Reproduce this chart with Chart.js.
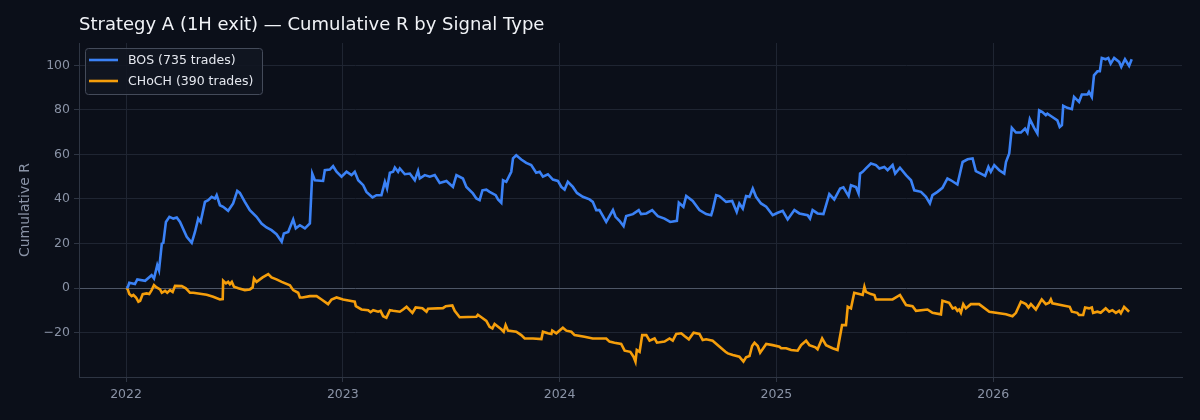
<!DOCTYPE html>
<html>
<head>
<meta charset="utf-8">
<script src="https://cdn.jsdelivr.net/npm/chart.js@4.4.1/dist/chart.umd.min.js"></script>
<style>
  html, body { margin: 0; padding: 0; background: #0b0f19; }
  #wrap { width: 1200px; height: 420px; }
</style>
</head>
<body>
<div id="wrap"><canvas id="myChart" width="1200" height="420"></canvas></div>
<script>
// chart text
const chartTitle = 'Strategy A (1H exit) \u2014 Cumulative R by Signal Type';
const seriesLabels = ['BOS (735 trades)', 'CHoCH (390 trades)'];
const yTitle = 'Cumulative R';

// tick labels
const yearTicks = [2022, 2023, 2024, 2025, 2026];
const rTicks = [-20, 0, 20, 40, 60, 80, 100];

// BOS cumulative R (x = decimal year)
const bosYears = [
  2022.002, 2022.009, 2022.015, 2022.041, 2022.052, 2022.088, 2022.118, 2022.129, 2022.144, 2022.152,
  2022.165, 2022.172, 2022.184, 2022.200, 2022.218, 2022.234, 2022.249, 2022.280, 2022.303, 2022.318,
  2022.333, 2022.344, 2022.364, 2022.379, 2022.395, 2022.410, 2022.418, 2022.433, 2022.448, 2022.471,
  2022.494, 2022.513, 2022.525, 2022.548, 2022.571, 2022.602, 2022.625, 2022.648, 2022.671, 2022.694,
  2022.718, 2022.728, 2022.748, 2022.771, 2022.783, 2022.802, 2022.825, 2022.848, 2022.859, 2022.871,
  2022.909, 2022.917, 2022.940, 2022.955, 2022.971, 2022.994,
  2023.017, 2023.040, 2023.055, 2023.071, 2023.094, 2023.109, 2023.137, 2023.155, 2023.178, 2023.194,
  2023.204, 2023.217, 2023.232, 2023.240, 2023.255, 2023.263, 2023.286, 2023.309, 2023.332, 2023.347,
  2023.355, 2023.378, 2023.401, 2023.424, 2023.447, 2023.478, 2023.508, 2023.524, 2023.554, 2023.570,
  2023.600, 2023.616, 2023.631, 2023.644, 2023.662, 2023.677, 2023.705, 2023.716, 2023.731, 2023.739,
  2023.754, 2023.777, 2023.785, 2023.800, 2023.823, 2023.846, 2023.869, 2023.892, 2023.908, 2023.923,
  2023.946, 2023.969, 2023.992,
  2024.008, 2024.023, 2024.038, 2024.061, 2024.080, 2024.107, 2024.138, 2024.153, 2024.169, 2024.184,
  2024.200, 2024.215, 2024.230, 2024.246, 2024.258, 2024.276, 2024.295, 2024.307, 2024.338, 2024.365,
  2024.376, 2024.400, 2024.427, 2024.453, 2024.484, 2024.510, 2024.541, 2024.550, 2024.571, 2024.584,
  2024.614, 2024.645, 2024.676, 2024.699, 2024.706, 2024.722, 2024.737, 2024.768, 2024.796, 2024.817,
  2024.829, 2024.845, 2024.860, 2024.876, 2024.891, 2024.906, 2024.929, 2024.953, 2024.983,
  2025.006, 2025.029, 2025.052, 2025.083, 2025.106, 2025.144, 2025.155, 2025.167, 2025.190, 2025.217,
  2025.244, 2025.267, 2025.294, 2025.309, 2025.333, 2025.344, 2025.367, 2025.379, 2025.386, 2025.398,
  2025.413, 2025.436, 2025.459, 2025.475, 2025.498, 2025.513, 2025.536, 2025.548, 2025.570, 2025.598,
  2025.621, 2025.636, 2025.667, 2025.690, 2025.708, 2025.720, 2025.743, 2025.766, 2025.789, 2025.805,
  2025.835, 2025.859, 2025.882, 2025.905, 2025.920, 2025.943, 2025.963, 2025.978, 2025.989,
  2026.005, 2026.028, 2026.051, 2026.059, 2026.074, 2026.086, 2026.105, 2026.128, 2026.147, 2026.158,
  2026.169, 2026.189, 2026.204, 2026.212, 2026.227, 2026.243, 2026.250, 2026.273, 2026.296, 2026.307,
  2026.317, 2026.323, 2026.342, 2026.363, 2026.373, 2026.396, 2026.409, 2026.435, 2026.442, 2026.455,
  2026.465, 2026.481, 2026.492, 2026.501, 2026.519, 2026.531, 2026.542, 2026.558, 2026.581, 2026.591,
  2026.608, 2026.627, 2026.639
];
const bosR = [
  0, 0.6, 2.4, 1.8, 3.9, 3.3, 5.8, 4.3, 10.3, 8,
  20, 20.3, 29.7, 32, 31.2, 31.7, 29.7, 23, 20.3, 25.2,
  31.2, 29.7, 38.7, 39.5, 41, 40.2, 41.7, 37.2, 36.5, 34.7,
  38, 43.6, 42.7, 38.7, 35, 32, 29, 27.2, 26, 24.2,
  20.8, 24.5, 25.2, 30.8, 26.8, 28.2, 26.8, 29, 51.4, 48.4,
  48.1, 52.9, 53.2, 54.7, 52.2, 50,
  52.2, 50.7, 52.2, 48.4, 46.2, 43.2, 40.7, 41.7, 41.7, 47.7,
  44.7, 51.8, 52.2, 54.1, 52.2, 53.7, 51.1, 51.4, 48.4, 52.6,
  49.2, 50.7, 50, 50.7, 47.2, 48.1, 45.4, 50.7, 49.2, 45.4,
  42.5, 40.2, 39.5, 43.9, 44.2, 43.2, 41.7, 39.8, 38.3, 48.4,
  47.7, 52.2, 58.2, 59.6, 57.7, 56.2, 55.2, 51.8, 52.2, 50,
  51.1, 48.7, 48.1,
  45.4, 44.2, 47.7, 45.4, 42.7, 41, 39.8, 38.7, 35, 35,
  32.3, 29.7, 32.3, 35, 32, 30.2, 27.8, 32.3, 33.2, 35,
  33.2, 33.5, 35, 32.3, 31.2, 29.7, 30.2, 38.3, 36.5, 41.3,
  39.1, 35, 33.2, 32.7, 35, 41.7, 41.3, 38.7, 39.1, 34.2,
  38, 35.7, 41.3, 41, 44.7, 41, 38, 36.5, 32.7,
  33.8, 34.7, 30.8, 35, 33.5, 32.7, 31.2, 35, 33.5, 33.2,
  42.2, 39.8, 44.7, 45.2, 41.3, 46.2, 45.4, 42.5, 51.4, 52.2,
  53.7, 55.9, 55.2, 53.7, 54.4, 52.9, 55.2, 51.4, 54, 50.7,
  48.4, 43.9, 43.2, 41, 38, 41.7, 43.2, 45, 49.2, 48.4,
  46.5, 56.6, 57.8, 58.2, 52.5, 51.4, 50.4, 54.4, 52.2,
  55.2, 52.9, 51.4, 56.6, 60.4, 71.9, 69.8, 69.8, 71.6, 69.8,
  75.8, 71.9, 69.4, 79.8, 79, 77.6, 78.3, 76.8, 75.3, 72.3,
  73.1, 81.8, 80.9, 80.3, 85.8, 83.6, 86.9, 86.9, 88.1, 85.8,
  95.5, 97.3, 97.3, 103.3, 102.7, 103.3, 100.7, 103.3, 101.5, 99.3,
  102.7, 99.7, 102.7
];

// CHoCH cumulative R (x = decimal year)
const chochYears = [
  2022.002, 2022.008, 2022.015, 2022.026, 2022.034, 2022.046, 2022.057, 2022.065, 2022.077, 2022.095,
  2022.107, 2022.118, 2022.129, 2022.141, 2022.157, 2022.165, 2022.180, 2022.190, 2022.203, 2022.215,
  2022.226, 2022.257, 2022.276, 2022.295, 2022.310, 2022.372, 2022.402, 2022.433, 2022.446, 2022.448,
  2022.461, 2022.471, 2022.479, 2022.488, 2022.498, 2022.518, 2022.548, 2022.571, 2022.584, 2022.590,
  2022.602, 2022.630, 2022.656, 2022.671, 2022.694, 2022.718, 2022.756, 2022.771, 2022.794, 2022.802,
  2022.814, 2022.848, 2022.879, 2022.902, 2022.932, 2022.948, 2022.971,
  2023.001, 2023.032, 2023.055, 2023.060, 2023.086, 2023.117, 2023.128, 2023.140, 2023.163, 2023.174,
  2023.186, 2023.201, 2023.217, 2023.232, 2023.263, 2023.278, 2023.294, 2023.321, 2023.336, 2023.367,
  2023.386, 2023.393, 2023.462, 2023.475, 2023.505, 2023.516, 2023.539, 2023.616, 2023.623, 2023.639,
  2023.662, 2023.677, 2023.690, 2023.700, 2023.731, 2023.742, 2023.751, 2023.762, 2023.800, 2023.823,
  2023.839, 2023.877, 2023.916, 2023.923, 2023.946, 2023.962, 2023.966, 2023.985,
  2024.015, 2024.031, 2024.054, 2024.069, 2024.115, 2024.153, 2024.215, 2024.230, 2024.253, 2024.284,
  2024.300, 2024.326, 2024.341, 2024.350, 2024.356, 2024.369, 2024.381, 2024.400, 2024.415, 2024.438,
  2024.449, 2024.484, 2024.507, 2024.522, 2024.538, 2024.561, 2024.576, 2024.596, 2024.618, 2024.645,
  2024.660, 2024.676, 2024.706, 2024.734, 2024.765, 2024.776, 2024.799, 2024.829, 2024.848, 2024.860,
  2024.876, 2024.888, 2024.899, 2024.914, 2024.925, 2024.953, 2024.983,
  2025.014, 2025.022, 2025.045, 2025.068, 2025.098, 2025.114, 2025.137, 2025.152, 2025.180, 2025.190,
  2025.211, 2025.229, 2025.259, 2025.282, 2025.303, 2025.321, 2025.329, 2025.344, 2025.359, 2025.382,
  2025.398, 2025.406, 2025.413, 2025.436, 2025.452, 2025.459, 2025.536, 2025.570, 2025.598, 2025.628,
  2025.644, 2025.697, 2025.720, 2025.759, 2025.766, 2025.797, 2025.813, 2025.825, 2025.835, 2025.843,
  2025.851, 2025.862, 2025.874, 2025.897, 2025.935, 2025.982,
  2026.059, 2026.089, 2026.105, 2026.128, 2026.151, 2026.163, 2026.174, 2026.197, 2026.224, 2026.243,
  2026.258, 2026.266, 2026.273, 2026.353, 2026.363, 2026.388, 2026.396, 2026.415, 2026.424, 2026.442,
  2026.455, 2026.461, 2026.481, 2026.496, 2026.519, 2026.535, 2026.550, 2026.566, 2026.581, 2026.589,
  2026.604, 2026.627
];
const chochR = [
  0, -0.6, -2.7, -3.6, -3.1, -4.2, -6.1, -5.7, -2.7, -2.4,
  -2.7, -0.9, 1.3, 0.3, -0.6, -2.1, -1.2, -2.1, -0.9, -1.7,
  1.0, 0.9, -0.1, -2.1, -2.1, -3.0, -3.9, -5.1, -4.9, 3.3,
  2.1, 2.8, 1.8, 2.8, 0.6, -0.1, -0.9, -0.6, 0.3, 4.3,
  2.8, 4.8, 6.3, 4.8, 3.9, 2.8, 1.3, -0.9, -2.1, -4.2,
  -4.2, -3.6, -3.6, -5.1, -7.2, -5.1, -4.2,
  -5.1, -5.7, -6.1, -8.1, -9.6, -9.9, -10.8, -9.9, -10.6, -10.2,
  -12.6, -13.3, -9.9, -10.2, -10.6, -9.6, -8.4, -11.1, -8.7, -9.0,
  -10.6, -9.3, -9.0, -8.1, -7.8, -10.2, -13.1, -12.9, -12.0, -13.1,
  -14.7, -17.4, -18.1, -16.1, -18.5, -19.6, -16.6, -19.1, -19.6, -21.1,
  -22.6, -22.6, -22.9, -19.6, -20.3, -20.6, -19.1, -20.3,
  -17.8, -19.1, -19.6, -21.1, -21.8, -22.6, -22.6, -24.0, -24.5, -25.1,
  -28.1, -28.6, -30.8, -33.0, -27.8, -28.6, -21.1, -21.1, -23.6, -22.6,
  -24.5, -24.0, -22.6, -23.6, -20.6, -20.3, -21.5, -23.0, -20.0, -20.6,
  -23.3, -23.0, -23.6, -26.0, -28.6, -29.3, -30.0, -30.8, -33.0, -31.1,
  -30.5, -26.0, -24.5, -26.0, -29.0, -25.1, -25.6,
  -26.3, -27.0, -27.0, -27.8, -28.1, -25.6, -23.6, -25.6, -26.6, -27.5,
  -22.6, -25.6, -27.0, -27.8, -16.6, -16.6, -8.4, -9.1, -2.1, -2.7,
  -3.1, 0.6, -1.7, -2.7, -3.1, -5.1, -5.1, -3.1, -7.6, -8.1,
  -10.2, -9.6, -11.1, -11.8, -5.7, -6.6, -9.1, -8.7, -10.2, -9.6,
  -11.1, -7.2, -9.1, -7.2, -7.2, -10.6,
  -11.7, -12.6, -11.1, -6.1, -7.2, -8.7, -7.2, -9.6, -5.1, -7.2,
  -6.6, -5.1, -6.8, -8.4, -10.6, -11.1, -12.1, -12.1, -8.7, -9.1,
  -8.7, -11.1, -10.6, -11.1, -9.1, -10.6, -9.9, -11.1, -10.2, -11.3,
  -8.4, -10.6
];

const BG = '#0b0f19';
const GRID = '#1f2532';
const ZERO = '#4e5666';
const SPINE = '#2e3543';
const TICK_TXT = '#8a93a6';
const FONT = '"DejaVu Sans", Verdana, sans-serif';
const COLORS = ['#3b82f6', '#f59e0b'];

// zip x/y arrays into points
const toPoints = (xs, ys) => xs.map((x, i) => ({ x: x, y: ys[i] }));

const buildDataset = (label, points, color) => ({
    label: label,
    data: points,
    borderColor: color,
    backgroundColor: color,
    borderWidth: 2.6,
    pointRadius: 0,
    tension: 0,
    fill: false
});

// background, title and an inside legend box (matplotlib style)
const decorPlugin = {
    id: 'decor',
    beforeDraw(chart) {
        const c = chart.ctx;
        c.save();
        c.fillStyle = BG;
        c.fillRect(0, 0, chart.width, chart.height);
        c.restore();
    },
    afterDraw(chart) {
        const c = chart.ctx;
        const area = chart.chartArea;
        c.save();
        c.fillStyle = '#f1f3f7';
        c.font = '18px ' + FONT;
        c.textBaseline = 'middle';
        c.textAlign = 'left';
        c.fillText(chartTitle, area.left, 25);

        // legend
        const bx = area.left + 6, by = area.top + 5, bw = 177, bh = 46;
        c.beginPath();
        c.roundRect(bx + 0.5, by + 0.5, bw, bh, 3);
        c.fillStyle = 'rgba(17, 22, 33, 0.9)';
        c.fill();
        c.strokeStyle = '#444b5a';
        c.lineWidth = 1;
        c.stroke();
        c.font = '12.5px ' + FONT;
        seriesLabels.forEach((lab, i) => {
            const y = by + 12 + i * 21;
            c.strokeStyle = COLORS[i];
            c.lineWidth = 2.6;
            c.beginPath();
            c.moveTo(bx + 4, y);
            c.lineTo(bx + 33, y);
            c.stroke();
            c.fillStyle = '#e4e7ee';
            c.fillText(lab, bx + 43, y + 0.5);
        });
        c.restore();
    }
};

const ctx = document.getElementById('myChart').getContext('2d');
const myChart = new Chart(ctx, {
    type: 'line',
    data: {
        datasets: [
            buildDataset(seriesLabels[0], toPoints(bosYears, bosR), COLORS[0]),
            buildDataset(seriesLabels[1], toPoints(chochYears, chochR), COLORS[1])
        ]
    },
    options: {
        responsive: false,
        animation: false,
        layout: { padding: { top: 43, right: 18, left: 0, bottom: 0 } },
        plugins: {
            legend: { display: false },
            title: { display: false },
            tooltip: { enabled: false }
        },
        scales: {
            x: {
                type: 'linear',
                min: 2021.783,
                max: 2026.871,
                afterBuildTicks: (scale) => { scale.ticks = yearTicks.map(v => ({ value: v })); },
                afterFit: (scale) => { scale.height = 43; },
                ticks: {
                    color: TICK_TXT,
                    font: { family: FONT, size: 12.5 },
                    padding: 5,
                    maxRotation: 0,
                    callback: (v) => String(v)
                },
                grid: { color: GRID, tickColor: SPINE, tickLength: 5, lineWidth: 1 },
                border: { display: true, color: SPINE, width: 1 }
            },
            y: {
                type: 'linear',
                min: -39.9,
                max: 110,
                afterBuildTicks: (scale) => { scale.ticks = rTicks.map(v => ({ value: v })); },
                afterFit: (scale) => { scale.width = 79; },
                ticks: {
                    color: TICK_TXT,
                    font: { family: FONT, size: 12.5 },
                    padding: 4,
                    callback: (v) => v < 0 ? '\u2212' + Math.abs(v) : String(v)
                },
                grid: {
                    color: (c) => (c.tick && c.tick.value === 0) ? ZERO : GRID,
                    tickColor: SPINE,
                    tickLength: 5,
                    lineWidth: 1
                },
                border: { display: true, color: SPINE, width: 1 },
                title: {
                    display: true,
                    text: yTitle,
                    color: TICK_TXT,
                    font: { family: FONT, size: 14 },
                    padding: { top: 17, bottom: 0 }
                }
            }
        }
    },
    plugins: [decorPlugin]
});
</script>
</body>
</html>
